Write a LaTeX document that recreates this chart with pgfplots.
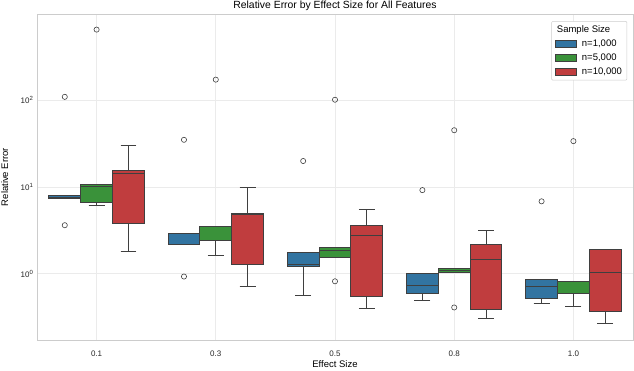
\documentclass[border=0pt]{standalone}
\usepackage{fontspec}
\setmainfont{Liberation Sans}
\usepackage{pgfplots}
\pgfplotsset{compat=1.18}
\usepgfplotslibrary{statistics}
\definecolor{cB}{HTML}{3274A1}
\definecolor{cG}{HTML}{3A923A}
\definecolor{cR}{HTML}{C03D3E}
\definecolor{edge}{HTML}{3F3F3F}
\definecolor{gridc}{HTML}{EBEBEB}
\definecolor{spine}{HTML}{CCCCCC}
\pgfplotsset{
  bx/.style={forget plot, draw=edge, line width=0.9pt, mark=o, mark size=2.6pt,
    mark options={draw=edge, fill=white, line width=0.6pt, solid},
    boxplot/every median/.style={draw=edge, line width=0.9pt}},
}
\begin{document}
\begin{tikzpicture}
\begin{axis}[
  name=ax,
  width=596pt, height=326pt, scale only axis,
  xmin=-0.5, xmax=4.5, ymin=0.173, ymax=980, ymode=log,
  xtick={0,1,2,3,4}, xticklabels={0.1,0.3,0.5,0.8,1.0},
  ytick={1,10,100}, yticklabels={10\textsuperscript{0},10\textsuperscript{1},10\textsuperscript{2}},
  minor ytick={}, 
  tick label style={font=\fontsize{8}{9}\selectfont, text=black!85},
  xticklabel style={yshift=-7pt},
  major tick length=0pt, minor tick length=0pt,
  grid=major, grid style={gridc, line width=0.8pt},
  axis line style={spine, line width=0.9pt},
  title={Relative Error by Effect Size for All Features},
  every axis title shift=0pt,
  title style={font=\fontsize{10.4}{12}\selectfont, at={(axis description cs:0.5,1)}, anchor=base, yshift=5pt},
  xlabel={Effect Size}, ylabel={Relative Error},
  label style={font=\fontsize{9.5}{11}\selectfont},
  xlabel style={at={(axis description cs:0.5,-0.074)}, anchor=center},
  ylabel style={at={(axis description cs:-0.054,0.5)}, anchor=center},
  boxplot/draw direction=y,
  boxplot/box extend=0.267,
  boxplot/whisker extend=0.133,
  legend style={at={(axis description cs:0.99,0.978)}, anchor=north east,
    draw=spine, fill=white, font=\fontsize{9.5}{11}\selectfont, row sep=2pt,
    rounded corners=1pt},
  legend cell align=left,
]
% ---- 0.1
\addplot[bx, fill=cB, boxplot prepared={draw position=-0.267, lower whisker=7.3, lower quartile=7.3, median=7.6, upper quartile=8.0, upper whisker=8.0}] table[row sep=\\,y index=0]{y\\109\\3.63\\};
\addplot[bx, fill=cG, boxplot prepared={draw position=0, lower whisker=6.15, lower quartile=6.6, median=10.1, upper quartile=10.7, upper whisker=10.7}] table[row sep=\\,y index=0]{y\\648\\};
\addplot[bx, fill=cR, boxplot prepared={draw position=0.267, lower whisker=1.83, lower quartile=3.83, median=14.3, upper quartile=15.3, upper whisker=30.4}] coordinates {};
% ---- 0.3
\addplot[bx, fill=cB, boxplot prepared={draw position=0.733, lower whisker=2.18, lower quartile=2.18, median=2.2, upper quartile=2.94, upper whisker=2.94}] table[row sep=\\,y index=0]{y\\34.9\\0.93\\};
\addplot[bx, fill=cG, boxplot prepared={draw position=1, lower whisker=1.64, lower quartile=2.43, median=3.5, upper quartile=3.51, upper whisker=3.51}] table[row sep=\\,y index=0]{y\\172\\};
\addplot[bx, fill=cR, boxplot prepared={draw position=1.267, lower whisker=0.72, lower quartile=1.29, median=4.8, upper quartile=4.94, upper whisker=9.8}] coordinates {};
% ---- 0.5
\addplot[bx, fill=cB, boxplot prepared={draw position=1.733, lower whisker=0.57, lower quartile=1.22, median=1.29, upper quartile=1.77, upper whisker=1.77}] table[row sep=\\,y index=0]{y\\19.9\\};
\addplot[bx, fill=cG, boxplot prepared={draw position=2, lower whisker=1.55, lower quartile=1.55, median=1.88, upper quartile=2.02, upper whisker=2.02}] table[row sep=\\,y index=0]{y\\101\\0.82\\};
\addplot[bx, fill=cR, boxplot prepared={draw position=2.267, lower whisker=0.398, lower quartile=0.546, median=2.77, upper quartile=3.6, upper whisker=5.49}] coordinates {};
% ---- 0.8
\addplot[bx, fill=cB, boxplot prepared={draw position=2.733, lower whisker=0.49, lower quartile=0.60, median=0.74, upper quartile=1.02, upper whisker=1.02}] table[row sep=\\,y index=0]{y\\9.2\\};
\addplot[bx, fill=cG, boxplot prepared={draw position=3, lower whisker=1.05, lower quartile=1.05, median=1.08, upper quartile=1.16, upper whisker=1.16}] table[row sep=\\,y index=0]{y\\45\\0.41\\};
\addplot[bx, fill=cR, boxplot prepared={draw position=3.267, lower whisker=0.303, lower quartile=0.385, median=1.47, upper quartile=2.18, upper whisker=3.16}] coordinates {};
% ---- 1.0
\addplot[bx, fill=cB, boxplot prepared={draw position=3.733, lower whisker=0.45, lower quartile=0.514, median=0.72, upper quartile=0.87, upper whisker=0.87}] table[row sep=\\,y index=0]{y\\6.83\\};
\addplot[bx, fill=cG, boxplot prepared={draw position=4, lower whisker=0.42, lower quartile=0.60, median=0.60, upper quartile=0.826, upper whisker=0.826}] table[row sep=\\,y index=0]{y\\33.7\\};
\addplot[bx, fill=cR, boxplot prepared={draw position=4.267, lower whisker=0.266, lower quartile=0.365, median=1.05, upper quartile=1.91, upper whisker=1.91}] coordinates {};
% legend
\addlegendimage{empty legend}\addlegendentry{\hspace*{-25pt}Sample Size}
\addlegendimage{legend image code/.code={\draw[sharp corners,fill=cB,draw=edge,line width=0.6pt] (0pt,-3.3pt) rectangle (21pt,3.3pt); \path[draw=none] (0pt,0pt) -- (25pt,0pt);}}\addlegendentry{n=1,000}
\addlegendimage{legend image code/.code={\draw[sharp corners,fill=cG,draw=edge,line width=0.6pt] (0pt,-3.3pt) rectangle (21pt,3.3pt); \path[draw=none] (0pt,0pt) -- (25pt,0pt);}}\addlegendentry{n=5,000}
\addlegendimage{legend image code/.code={\draw[sharp corners,fill=cR,draw=edge,line width=0.6pt] (0pt,-3.3pt) rectangle (21pt,3.3pt); \path[draw=none] (0pt,0pt) -- (25pt,0pt);}}\addlegendentry{n=10,000}
\end{axis}
\pgfresetboundingbox
\path[use as bounding box] ([xshift=-37pt,yshift=-30pt]ax.south west) rectangle ([xshift=1pt,yshift=14pt]ax.north east);
\end{tikzpicture}
\end{document}
